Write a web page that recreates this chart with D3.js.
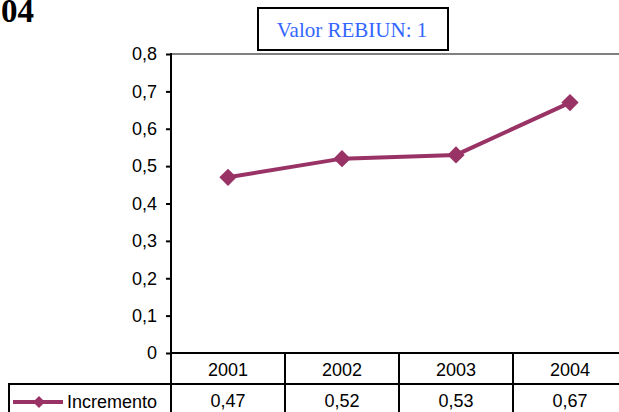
<!DOCTYPE html>
<html>
<head>
<meta charset="utf-8">
<script src="https://cdn.jsdelivr.net/npm/d3@7"></script>
<style>
  body { margin: 0; background: #fff; }
  svg { display: block; }
</style>
</head>
<body>
<div id="chart"></div>
<script>
    var years = ["2001", "2002", "2003", "2004"];
    var incremento = [0.47, 0.52, 0.53, 0.67];
    var yTicks = [0, 0.1, 0.2, 0.3, 0.4, 0.5, 0.6, 0.7, 0.8];
    var seriesName = "Incremento";
    var boxLabel = "Valor REBIUN: 1";

    var W = 619, H = 412;
    var lineColor = "#993366";
    var sans = "Liberation Sans, Arial, sans-serif";
    var serif = "Liberation Serif, Times New Roman, serif";
    var fmt = function(v) { return String(v).replace(".", ","); };

    var svg = d3.select("#chart")
        .append("svg")
        .attr("width", W)
        .attr("height", H);

    // scales
    var x = d3.scaleBand()
        .domain(years)
        .range([171, 627]);
    var y = d3.scaleLinear()
        .domain([0, 0.8])
        .range([353, 54]);

    // what is left of the clipped title
    svg.append("text")
        .attr("x", 1).attr("y", 22)
        .attr("font-family", serif)
        .attr("font-weight", "bold")
        .attr("font-size", 33)
        .text("04");

    // plot area top border
    svg.append("line")
        .attr("x1", x.range()[0]).attr("x2", x.range()[1])
        .attr("y1", y(0.8)).attr("y2", y(0.8))
        .attr("stroke", "#808080").attr("stroke-width", 2);

    // y axis
    var yAxis = svg.append("g")
        .attr("transform", "translate(171,0)")
        .call(d3.axisLeft(y).tickValues(yTicks)
            .tickFormat(function(d) { return d === 0 ? "0" : fmt(d3.format(".1f")(d)); })
            .tickSize(5).tickPadding(9));
    yAxis.select(".domain").remove();
    yAxis.selectAll(".tick line").attr("stroke", "#000").attr("stroke-width", 2);
    yAxis.selectAll("text")
        .attr("font-family", sans)
        .attr("font-size", 18)
        .attr("fill", "#000");

    // axis line running down through the table
    svg.append("line")
        .attr("x1", 171).attr("x2", 171)
        .attr("y1", y(0.8) - 1).attr("y2", H + 5)
        .attr("stroke", "#000").attr("stroke-width", 2);

    // data table
    var table = svg.append("g").attr("stroke", "#000").attr("stroke-width", 2);
    table.append("line")
        .attr("x1", 171).attr("x2", x.range()[1])
        .attr("y1", y(0)).attr("y2", y(0));
    table.append("line")
        .attr("x1", 8).attr("x2", x.range()[1])
        .attr("y1", 384).attr("y2", 384);
    table.append("line")
        .attr("x1", 9).attr("x2", 9)
        .attr("y1", 383).attr("y2", H + 5);
    table.selectAll(".col")
        .data(years)
        .enter().append("line")
        .attr("x1", function(d) { return x(d) + x.bandwidth(); })
        .attr("x2", function(d) { return x(d) + x.bandwidth(); })
        .attr("y1", y(0)).attr("y2", H + 5);

    svg.selectAll(".yr")
        .data(years)
        .enter().append("text")
        .attr("x", function(d) { return x(d) + x.bandwidth() / 2; })
        .attr("y", 376)
        .attr("text-anchor", "middle")
        .attr("font-family", sans)
        .attr("font-size", 18)
        .text(function(d) { return d; });

    svg.selectAll(".val")
        .data(incremento)
        .enter().append("text")
        .attr("x", function(d, i) { return x(years[i]) + x.bandwidth() / 2; })
        .attr("y", 407)
        .attr("text-anchor", "middle")
        .attr("font-family", sans)
        .attr("font-size", 18)
        .text(function(d) { return fmt(d); });

    // legend key in the table
    svg.append("line")
        .attr("x1", 13).attr("x2", 63)
        .attr("y1", 402).attr("y2", 402)
        .attr("stroke", lineColor).attr("stroke-width", 4);
    svg.append("path")
        .attr("d", d3.symbol().type(d3.symbolSquare).size(72)())
        .attr("transform", "translate(39,402) rotate(45)")
        .attr("fill", lineColor);
    svg.append("text")
        .attr("x", 67).attr("y", 408)
        .attr("font-family", sans)
        .attr("font-size", 18)
        .text(seriesName);

    // series line
    var line = d3.line()
        .x(function(d, i) { return x(years[i]) + x.bandwidth() / 2; })
        .y(function(d) { return y(d); });
    svg.append("path")
        .datum(incremento)
        .attr("d", line)
        .attr("fill", "none")
        .attr("stroke", lineColor)
        .attr("stroke-width", 4);
    svg.selectAll(".pt")
        .data(incremento)
        .enter().append("path")
        .attr("d", d3.symbol().type(d3.symbolSquare).size(150)())
        .attr("transform", function(d, i) {
            return "translate(" + (x(years[i]) + x.bandwidth() / 2) + "," + y(d) + ") rotate(45)";
        })
        .attr("fill", lineColor);

    // REBIUN box
    svg.append("rect")
        .attr("x", 258).attr("y", 8)
        .attr("width", 190).attr("height", 42)
        .attr("fill", "#fff")
        .attr("stroke", "#000").attr("stroke-width", 2);
    svg.append("text")
        .attr("x", 352).attr("y", 37)
        .attr("text-anchor", "middle")
        .attr("font-family", serif)
        .attr("font-size", 21)
        .attr("fill", "#3366ff")
        .text(boxLabel);
</script>
</body>
</html>
